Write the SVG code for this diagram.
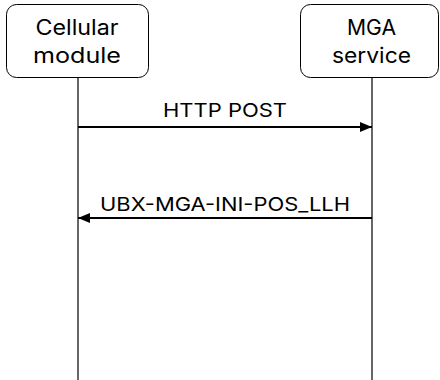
<svg xmlns="http://www.w3.org/2000/svg" width="440" height="380" viewBox="0 0 440 380">
<defs>
<style>
.box{fill:#fff;stroke:#000;stroke-width:1}
.life{stroke:#000;stroke-width:1.2}
.msg{stroke:#000;stroke-width:2;fill:none}
.t{font-family:Inter,"Liberation Sans",Arial,sans-serif;fill:#000;text-anchor:middle}
.nt{font-size:21px}
.lt{font-size:19px}
</style>
<marker id="ah" markerWidth="12" markerHeight="10" refX="12" refY="5" orient="auto" markerUnits="userSpaceOnUse">
<path d="M0,0 L12,5 L0,10 Z" fill="#000"/>
</marker>
</defs>
<g id="connectors">
<line class="life" x1="78" y1="77.5" x2="78" y2="380"/>
<line class="life" x1="372" y1="77.5" x2="372" y2="380"/>
<line class="msg" x1="78" y1="127" x2="372" y2="127" marker-end="url(#ah)"/>
<text class="t lt" x="225" y="117" textLength="124" lengthAdjust="spacingAndGlyphs">HTTP POST</text>
<line class="msg" x1="372" y1="218" x2="78" y2="218" marker-end="url(#ah)"/>
<text class="t lt" x="225" y="211" textLength="250" lengthAdjust="spacingAndGlyphs">UBX-MGA-INI-POS_LLH</text>
</g>
<g id="cellular">
<rect class="box" x="6.5" y="4.5" width="142" height="73" rx="10"/>
<text class="t nt" x="77" y="35" textLength="83" lengthAdjust="spacingAndGlyphs">Cellular</text>
<text class="t nt" x="77" y="63" textLength="88" lengthAdjust="spacingAndGlyphs">module</text>
</g>
<g id="mga">
<rect class="box" x="300.5" y="4.5" width="138" height="73" rx="10"/>
<text class="t nt" x="371.5" y="35" textLength="49" lengthAdjust="spacingAndGlyphs">MGA</text>
<text class="t nt" x="371.5" y="63" textLength="79" lengthAdjust="spacingAndGlyphs">service</text>
</g>
</svg>
